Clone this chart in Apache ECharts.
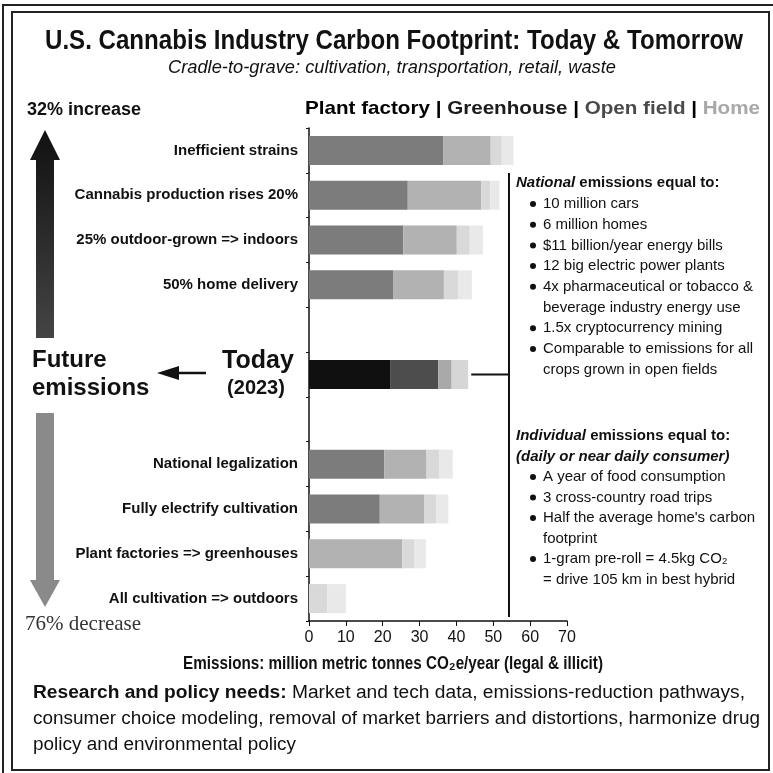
<!DOCTYPE html>
<html><head><meta charset="utf-8">
<script src="https://cdn.jsdelivr.net/npm/echarts@6/dist/echarts.min.js"></script>
<style>html,body{margin:0;padding:0;background:#fff}#c{width:773px;height:773px}</style>
</head><body><div id="c"></div>
<script>
// ---------- data ----------
const categories = ['Inefficient strains','Cannabis production rises 20%','25% outdoor-grown => indoors','50% home delivery','','Today','','National legalization','Fully electrify cultivation','Plant factories => greenhouses','All cultivation => outdoors'];
const plantFactory = [36.4, 26.8, 25.6, 22.8, null, 22.0, null, 20.4, 19.2, 0, 0];
const greenhouse   = [12.9, 19.9, 14.5, 13.8, null, 13.1, null, 11.5, 12.0, 25.3, 0];
const openField    = [3.0, 2.5, 3.5, 3.8, null, 3.6, null, 3.5, 3.3, 3.2, 5.0];
const home         = [3.2, 2.5, 3.6, 3.8, null, 4.5, null, 3.6, 3.3, 3.2, 5.0];
const xTicks = [0, 10, 20, 30, 40, 50, 60, 70];
const todayIndex = 5;
const nationalItems = [['10 million cars'],['6 million homes'],['$11 billion/year energy bills'],['12 big electric power plants'],['4x pharmaceutical or tobacco &','beverage industry energy use'],['1.5x cryptocurrency mining'],['Comparable to emissions for all','crops grown in open fields']];
const individualItems = [['A year of food consumption'],['3 cross-country road trips'],["Half the average home's carbon",'footprint'],['1-gram pre-roll = 4.5kg CO\u2082','= drive 105 km in best hybrid']];

const FONT = "'Liberation Sans', Arial, sans-serif";
const scenarioColors = ['#7c7c7c', '#b2b2b2', '#d9d9d9', '#e9e9e9'];
const todayColors = ['#101010', '#4d4d4d', '#a9a9a9', '#d6d6d6'];
const seriesNames = ['Plant factory', 'Greenhouse', 'Open field', 'Home'];
const seriesData = [plantFactory, greenhouse, openField, home];

const chart = echarts.init(document.getElementById('c'), null, {renderer: 'canvas'});

const mctx = document.createElement('canvas').getContext('2d');
function w(text, size, weight, style, family) {
  mctx.font = (style || 'normal') + ' ' + (weight || 'normal') + ' ' + size + 'px ' + (family || FONT);
  return mctx.measureText(text).width;
}

const series = seriesData.map((arr, si) => ({
  name: seriesNames[si], type: 'bar', stack: 'total', barWidth: 29,
  itemStyle: {color: scenarioColors[si]},
  data: arr.map((v, i) => i === todayIndex ? {value: v, itemStyle: {color: todayColors[si]}} : v),
  animation: false
}));

chart.setOption({
  animation: false,
  grid: {left: 309, right: 206, top: 128, bottom: 152},
  xAxis: {
    type: 'value', min: xTicks[0], max: xTicks[xTicks.length - 1], interval: 10,
    axisLine: {show: true, lineStyle: {color: '#111', width: 1.5}},
    axisTick: {show: true, length: 5, lineStyle: {color: '#111'}},
    axisLabel: {fontSize: 16, color: '#111', fontFamily: FONT, margin: 9},
    splitLine: {show: false}
  },
  yAxis: {
    type: 'category', data: categories, inverse: true,
    axisLine: {show: true, lineStyle: {color: '#111', width: 1.5}},
    axisTick: {show: true, length: 3, lineStyle: {color: '#111'}},
    axisLabel: {fontSize: 15, fontWeight: 'bold', color: '#111', fontFamily: FONT, margin: 11,
      formatter: v => (v === 'Today' ? '' : v)}
  },
  series: series
});

// ---------- annotations ----------
const g = [];
function txt(x, y, text, size, opts) {
  opts = opts || {};
  const el = {type: 'text', x: x, y: y, z: 10, scaleX: opts.scaleX || 1,
    style: {text: text, fontSize: size, fontWeight: opts.weight || 'normal', fontStyle: opts.style || 'normal',
      fontFamily: opts.family || FONT, fill: opts.color || '#111',
      textAlign: opts.align || 'left', align: opts.align || 'left',
      textVerticalAlign: 'middle', verticalAlign: 'middle', rich: opts.rich}};
  g.push(el);
}
// frame
g.push({type: 'polyline', shape: {points: [[3, 773], [3, 5], [773, 5]]}, style: {stroke: '#222', lineWidth: 2, fill: null}});
g.push({type: 'rect', shape: {x: 12, y: 12, width: 757, height: 758}, style: {stroke: '#222', lineWidth: 2, fill: null}});

// title
const tTitle = 'U.S. Cannabis Industry Carbon Footprint: Today & Tomorrow';
txt(394, 42, tTitle, 27, {weight: 'bold', align: 'center', scaleX: 698 / w(tTitle, 27, 'bold')});
const tSub = 'Cradle-to-grave: cultivation, transportation, retail, waste';
txt(392, 68, tSub, 19, {style: 'italic', align: 'center', scaleX: 448 / w(tSub, 19, 'normal', 'italic')});

// legend text
const legParts = [['Plant factory', '#000'], [' | ', '#000'], ['Greenhouse', '#1c1c1c'], [' | ', '#000'], ['Open field', '#4a4a4a'], [' | ', '#000'], ['Home', '#a8a8a8']];
let legText = '', legRich = {}, legW = 0;
legParts.forEach((p, i) => { legText += '{p' + i + '|' + p[0] + '}'; legRich['p' + i] = {fill: p[1], color: p[1], fontSize: 19, fontWeight: 'bold', fontFamily: FONT}; legW += w(p[0], 19, 'bold'); });
txt(305, 109, legText, 19, {weight: 'bold', rich: legRich, scaleX: 455 / legW});

// left annotations
txt(27, 110, '32% increase', 18, {weight: 'bold'});
g.push({type: 'polygon', shape: {points: [[45, 130], [60, 160], [54, 160], [54, 338], [36, 338], [36, 160], [30, 160]]},
  style: {fill: new echarts.graphic.LinearGradient(0, 0, 0, 1, [{offset: 0, color: '#111'}, {offset: 1, color: '#444'}])}});
g.push({type: 'polygon', shape: {points: [[36, 413], [54, 413], [54, 580], [60, 580], [45, 607], [30, 580], [36, 580]]},
  style: {fill: '#8a8a8a'}});
txt(25, 624, '76% decrease', 21, {family: "'Liberation Serif', serif", color: '#333'});
txt(32, 360, 'Future', 24, {weight: 'bold'});
txt(32, 388, 'emissions', 24, {weight: 'bold'});
g.push({type: 'line', shape: {x1: 176, y1: 373, x2: 206, y2: 373}, style: {stroke: '#111', lineWidth: 2.5}});
g.push({type: 'polygon', shape: {points: [[157, 373], [179, 366], [179, 380]]}, style: {fill: '#111'}});
txt(258, 361, 'Today', 25, {weight: 'bold', align: 'center'});
txt(256, 388, '(2023)', 20, {weight: 'bold', align: 'center'});

// right text block
const vx = 509;
g.push({type: 'line', shape: {x1: vx, y1: 173, x2: vx, y2: 617}, style: {stroke: '#111', lineWidth: 2}});
const todayTotal = plantFactory[todayIndex] + greenhouse[todayIndex] + openField[todayIndex] + home[todayIndex];
const p0 = chart.convertToPixel({gridIndex: 0}, [todayTotal, categories[todayIndex]]);
g.push({type: 'line', shape: {x1: p0[0] + 3, y1: p0[1], x2: vx, y2: p0[1]}, style: {stroke: '#111', lineWidth: 2}});

const RS = 15, LH = 20.7;
txt(516, 183, '{bi|National}{b| emissions equal to:}', RS, {rich: {bi: {fontWeight: 'bold', fontStyle: 'italic', fontSize: RS, fontFamily: FONT}, b: {fontWeight: 'bold', fontSize: RS, fontFamily: FONT}}});
let y = 204;
nationalItems.forEach(item => {
  g.push({type: 'circle', shape: {cx: 533, cy: y, r: 3}, style: {fill: '#111'}});
  item.forEach(line => { txt(543, y, line, RS); y += LH; });
});
txt(516, 436, '{bi|Individual}{b| emissions equal to:}', RS, {rich: {bi: {fontWeight: 'bold', fontStyle: 'italic', fontSize: RS, fontFamily: FONT}, b: {fontWeight: 'bold', fontSize: RS, fontFamily: FONT}}});
txt(516, 457, '(daily or near daily consumer)', RS, {weight: 'bold', style: 'italic'});
y = 477;
individualItems.forEach(item => {
  g.push({type: 'circle', shape: {cx: 533, cy: y, r: 3}, style: {fill: '#111'}});
  item.forEach(line => { txt(543, y, line, RS); y += 20.5; });
});

// axis name
const tAx = 'Emissions: million metric tonnes CO\u2082e/year (legal & illicit)';
txt(393, 664, tAx, 18, {weight: 'bold', align: 'center', scaleX: 420 / w(tAx, 18, 'bold')});

// research text
const rb = 'Research and policy needs:';
const r1 = ' Market and tech data, emissions-reduction pathways,';
const r2 = 'consumer choice modeling, removal of market barriers and distortions, harmonize drug';
const r3 = 'policy and environmental policy';
const RF = 18;
const s1 = 712 / (w(rb, RF, 'bold') + w(r1, RF));
const s2 = 727 / w(r2, RF);
txt(33, 693, '{b|' + rb + '}{n|' + r1 + '}', RF, {scaleX: s1, rich: {b: {fontWeight: 'bold', fontSize: RF, fontFamily: FONT}, n: {fontSize: RF, fontFamily: FONT}}});
txt(33, 719, r2, RF, {scaleX: s2});
txt(33, 745, r3, RF, {scaleX: s2});

chart.setOption({graphic: {elements: g}});
</script></body></html>
